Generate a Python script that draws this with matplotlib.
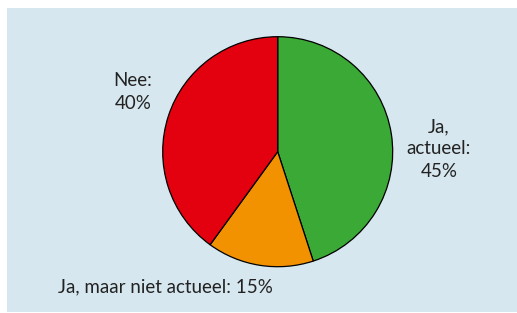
import matplotlib
matplotlib.use("Agg")
import matplotlib.pyplot as plt
from matplotlib.patches import Rectangle

# data
labels = ["Ja,\nactueel:\n45%", "Ja, maar niet actueel: 15%", "Nee:\n40%"]
values = [45, 15, 40]
colors = ["#3aa935", "#f39200", "#e3000f"]

W, H = 517, 313
fig = plt.figure(figsize=(W / 100, H / 100), dpi=100)
ax = fig.add_axes([0, 0, 1, 1])

# light blue panel
ax.add_patch(Rectangle((7, 1), W - 7, 304, facecolor="#d6e7ef", edgecolor="none", zorder=0))

ax.pie(values, colors=colors, startangle=90, counterclock=False,
       center=(277.7, H - 151.7), radius=115, frame=True,
       wedgeprops=dict(edgecolor="black", linewidth=0.9))
ax.set_xlim(0, W)
ax.set_ylim(0, H)
ax.set_aspect("auto")
ax.axis("off")

font = dict(family=["Lato", "DejaVu Sans"], fontsize=13.5, color="#222222",
            ha="center", va="center", linespacing=1.4)
ax.text(439, H - 149, labels[0], **font)
ax.text(165, H - 287, labels[1], **font)
ax.text(133, H - 92, labels[2], **font)

fig.savefig("out.png", dpi=100)
